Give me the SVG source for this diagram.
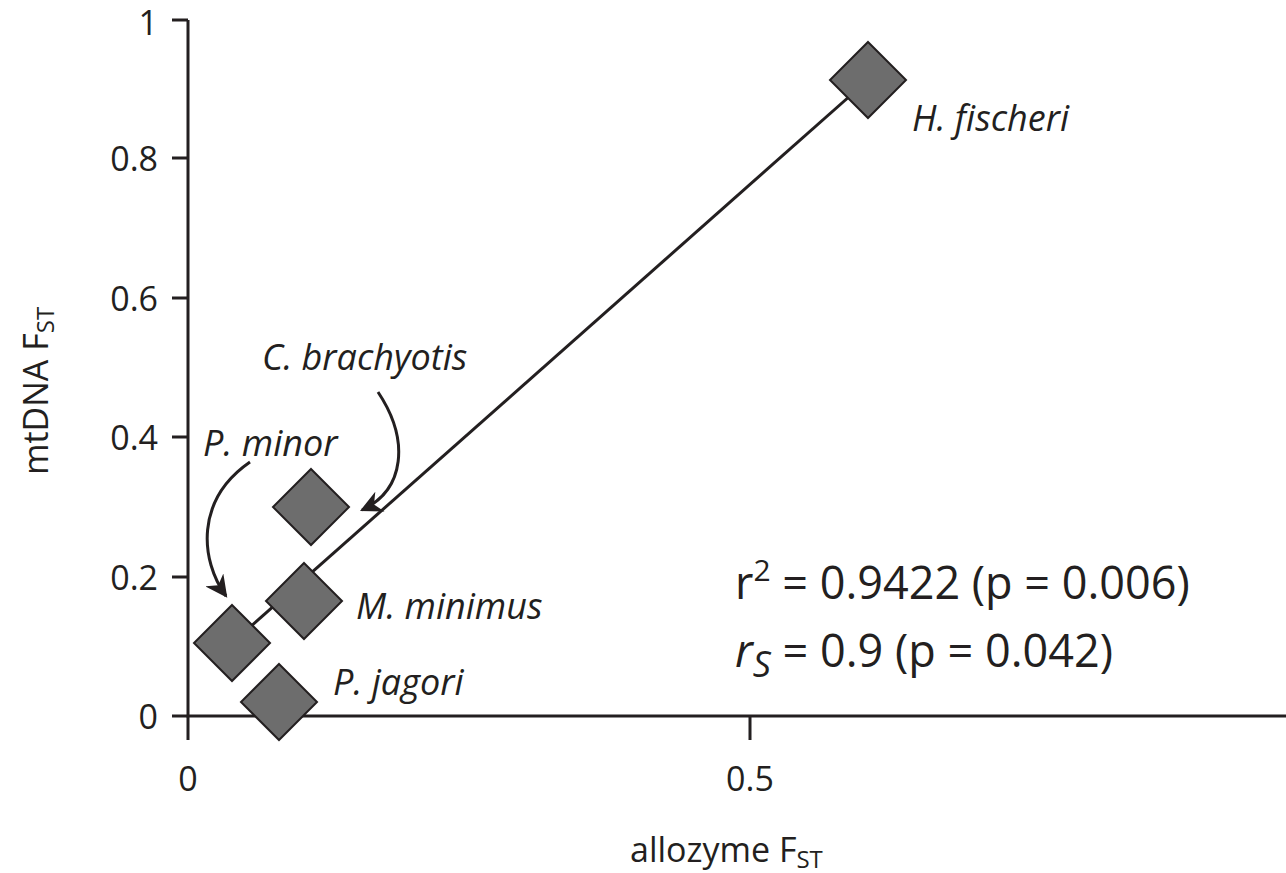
<svg xmlns="http://www.w3.org/2000/svg" width="1286" height="873" viewBox="0 0 1286 873">
<style>
text{font-family:"Open Sans","Liberation Sans",sans-serif;fill:#231f20}
.t{font-size:34px}
.sp{font-size:36px;font-style:italic}
.d{fill:#6d6d6d;stroke:#231f20;stroke-width:2}
.ax{stroke:#231f20;stroke-width:3;fill:none}
</style>
<defs><marker id="ah2" viewBox="0 0 10 10" refX="9" refY="5" markerWidth="22" markerHeight="22" orient="auto" markerUnits="userSpaceOnUse"><path d="M0,0 L10,5 L0,10 L3,5 Z" fill="#231f20"/></marker></defs>
<g id="axes">
<path class="ax" d="M188,20 V716 H1286"/>
<path class="ax" d="M172,20H188M172,158H188M172,298H188M172,437H188M172,577H188M172,716H188M188,716V740M750,716V740"/>
<g class="t" text-anchor="end"><text x="158" y="35">1</text><text x="158" y="171">0.8</text><text x="158" y="311">0.6</text><text x="158" y="450">0.4</text><text x="158" y="590">0.2</text><text x="158" y="729">0</text></g>
<g class="t" text-anchor="middle"><text x="188" y="791">0</text><text x="750" y="791">0.5</text></g>
<text class="t" x="630" y="862">allozyme F<tspan font-size="24" dy="6">ST</tspan></text>
<text class="t" transform="translate(48,475) rotate(-90)">mtDNA F<tspan font-size="24" dy="6">ST</tspan></text>
</g>
<g id="connectors">
<line x1="232" y1="643" x2="868" y2="80" stroke="#231f20" stroke-width="3"/>
<path d="M250,462 C195,500 200,560 226,596" class="ax" stroke-width="2.5" marker-end="url(#ah2)"/>
<path d="M378,392 C410,440 405,490 362,510" class="ax" stroke-width="2.5" marker-end="url(#ah2)"/>
</g>
<g id="hfischeri"><path class="d" d="M868,42 L906,80 L868,118 L830,80 Z"/><text class="sp" x="912" y="131">H. fischeri</text></g>
<g id="cbrachyotis"><path class="d" d="M311,469 L349,507 L311,545 L273,507 Z"/><text class="sp" x="262" y="370">C. brachyotis</text></g>
<g id="mminimus"><path class="d" d="M304,563 L342,601 L304,639 L266,601 Z"/><text class="sp" x="356" y="619">M. minimus</text></g>
<g id="pminor"><path class="d" d="M232,605 L270,643 L232,681 L194,643 Z"/><text class="sp" x="203" y="456">P. minor</text></g>
<g id="pjagori"><path class="d" d="M279,664 L317,702 L279,740 L241,702 Z"/><text class="sp" x="333" y="695">P. jagori</text></g>
<g id="stats"><text x="735" y="599" font-size="45">r<tspan font-size="30" dy="-18">2</tspan><tspan dy="18"> = 0.9422 (p = 0.006)</tspan></text>
<text x="735" y="667" font-size="45"><tspan font-style="italic">r</tspan><tspan font-style="italic" font-size="36" dy="10">S</tspan><tspan dy="-10"> = 0.9 (p = 0.042)</tspan></text></g>
</svg>
